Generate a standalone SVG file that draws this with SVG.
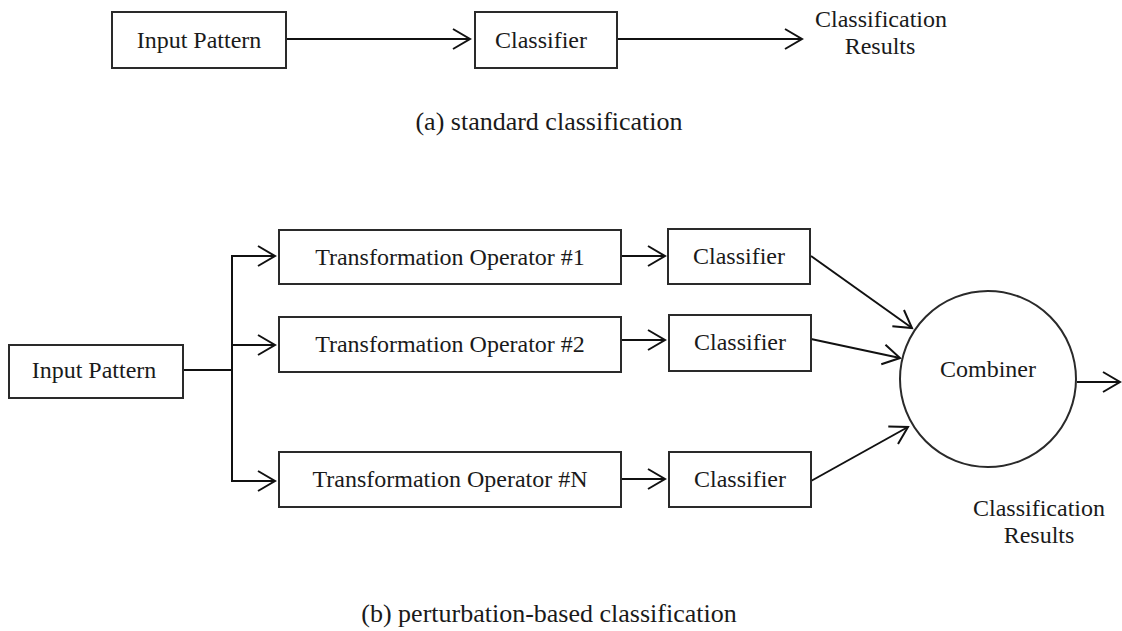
<svg xmlns="http://www.w3.org/2000/svg" width="1122" height="631" viewBox="0 0 1122 631">
<style>
.box{fill:#fff;stroke:#2a2a2a;stroke-width:2}
.t{font-family:"Liberation Serif","Times New Roman",serif;font-size:24px;fill:#1a1a1a;text-anchor:middle}
.cap{font-family:"Liberation Serif","Times New Roman",serif;font-size:26px;fill:#1a1a1a;text-anchor:middle}
.ln{fill:none;stroke:#111;stroke-width:2}
</style>
<defs>
<marker id="arr" markerUnits="userSpaceOnUse" markerWidth="24" markerHeight="24" viewBox="-20 -12 24 24" refX="0" refY="0" orient="auto">
<path d="M-17,-10 L0,0 L-17,10" fill="none" stroke="#111" stroke-width="2"/>
</marker>
</defs>
<rect width="1122" height="631" fill="#fff"/>
<g id="connectors">
<line class="ln" x1="286" y1="39" x2="470" y2="39" marker-end="url(#arr)"/>
<line class="ln" x1="617" y1="39" x2="802" y2="39" marker-end="url(#arr)"/>
<polyline class="ln" points="183,370 232,370"/>
<polyline class="ln" points="232,256 232,481"/>
<line class="ln" x1="231" y1="256" x2="275" y2="256" marker-end="url(#arr)"/>
<line class="ln" x1="232" y1="345" x2="275" y2="345" marker-end="url(#arr)"/>
<line class="ln" x1="231" y1="481" x2="275" y2="481" marker-end="url(#arr)"/>
<line class="ln" x1="621" y1="256" x2="665" y2="256" marker-end="url(#arr)"/>
<line class="ln" x1="621" y1="340" x2="665" y2="340" marker-end="url(#arr)"/>
<line class="ln" x1="621" y1="479" x2="665" y2="479" marker-end="url(#arr)"/>
<line class="ln" x1="811" y1="256" x2="912" y2="328" marker-end="url(#arr)"/>
<line class="ln" x1="811" y1="339" x2="900" y2="358" marker-end="url(#arr)"/>
<line class="ln" x1="811" y1="481" x2="908" y2="427" marker-end="url(#arr)"/>
<line class="ln" x1="1077" y1="382" x2="1120" y2="382" marker-end="url(#arr)"/>
</g>
<g id="a-input"><rect class="box" x="112" y="12" width="174" height="56"/><text class="t" x="199" y="48">Input Pattern</text></g>
<g id="a-classifier"><rect class="box" x="475" y="12" width="142" height="56"/><text class="t" x="541" y="48">Classifier</text></g>
<g id="a-results"><text class="t" x="881" y="27">Classification</text><text class="t" x="880" y="54">Results</text></g>
<g id="a-caption"><text class="cap" x="549" y="130">(a) standard classification</text></g>
<g id="b-input"><rect class="box" x="9" y="345" width="174" height="53"/><text class="t" x="94" y="378">Input Pattern</text></g>
<g id="b-op1"><rect class="box" x="279" y="230" width="342" height="54"/><text class="t" x="450" y="265">Transformation Operator #1</text></g>
<g id="b-op2"><rect class="box" x="279" y="317" width="342" height="55"/><text class="t" x="450" y="352">Transformation Operator #2</text></g>
<g id="b-opN"><rect class="box" x="279" y="452" width="342" height="55"/><text class="t" x="450" y="487">Transformation Operator #N</text></g>
<g id="b-cls1"><rect class="box" x="668" y="229" width="142" height="55"/><text class="t" x="739" y="264">Classifier</text></g>
<g id="b-cls2"><rect class="box" x="669" y="315" width="142" height="56"/><text class="t" x="740" y="350">Classifier</text></g>
<g id="b-clsN"><rect class="box" x="669" y="452" width="142" height="55"/><text class="t" x="740" y="487">Classifier</text></g>
<g id="b-combiner"><circle class="box" cx="988" cy="379" r="88"/><text class="t" x="988" y="377">Combiner</text></g>
<g id="b-results"><text class="t" x="1039" y="516">Classification</text><text class="t" x="1039" y="543">Results</text></g>
<g id="b-caption"><text class="cap" x="549" y="622">(b) perturbation-based classification</text></g>
</svg>
